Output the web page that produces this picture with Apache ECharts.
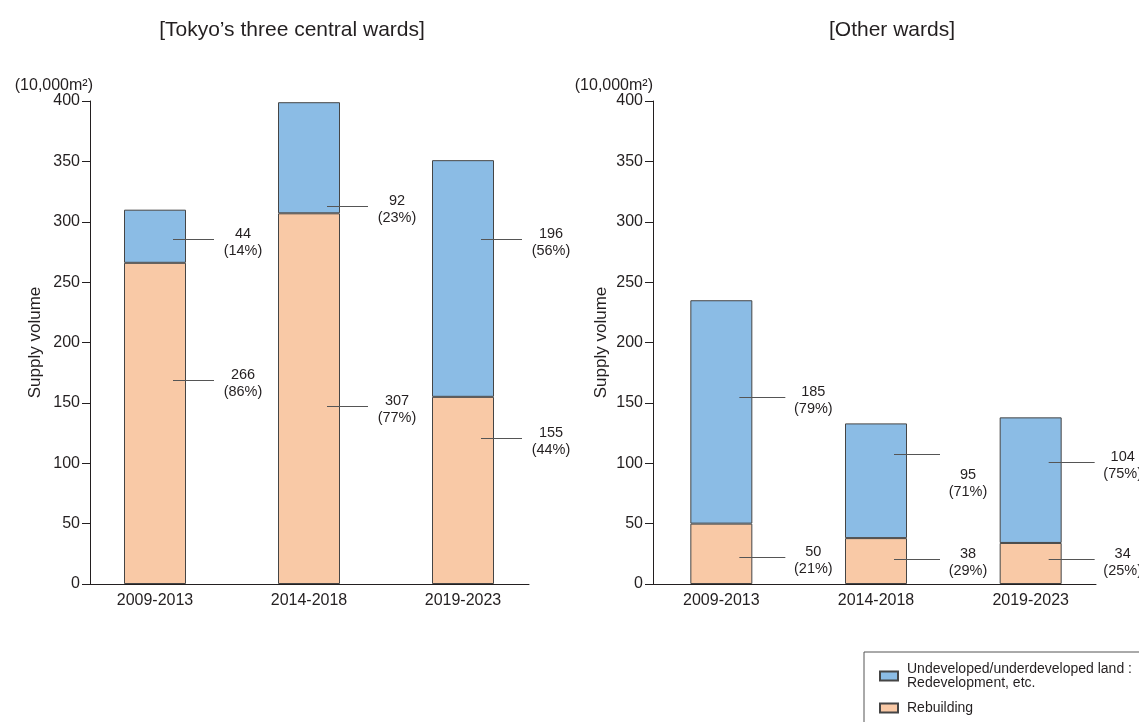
<!DOCTYPE html>
<html>
<head>
<meta charset="utf-8">
<script src="https://cdn.jsdelivr.net/npm/echarts@6/dist/echarts.min.js"></script>
<style>
  html, body { margin: 0; padding: 0; background: #ffffff; }
  #chart { width: 1139px; height: 722px; }
</style>
</head>
<body>
<div id="chart"></div>
<script>
// Supply volume of office floor space, 10,000 m²
const periods = ['2009-2013', '2014-2018', '2019-2023'];
const centralRebuilding = [266, 307, 155];
const centralRedevelopment = [44, 92, 196];
const otherRebuilding = [50, 38, 34];
const otherRedevelopment = [185, 95, 104];
const supplyTicks = { min: 0, max: 400, step: 50 };

const REDEV = 'Undeveloped/underdeveloped land :\nRedevelopment, etc.';
const REBUILD = 'Rebuilding';

// Call-out placement: height (in supply units) of each leader line,
// vertical shift of its text block, and the line / text offsets from the bar centre
const calloutLayout = {
  central: {
    rebuildAt: [169, 147, 121], redevAt: [286, 313, 286],
    rebuildShift: [3, 3, 3], redevShift: [3, 3, 3],
    lineEnd: 59, textAt: 88
  },
  other: {
    rebuildAt: [22, 21, 21], redevAt: [155, 108, 101],
    rebuildShift: [3, 3, 3], redevShift: [3, 29, 3],
    lineEnd: 64, textAt: 92
  }
};

const FONT = '"Liberation Sans", Arial, Helvetica, sans-serif';
const INK = '#231f20';
const EDGE = '#454545';
const BLUE = '#8bbce5';
const PEACH = '#f9c9a6';

function share(part, total) {
  return Math.round(part / total * 100);
}

function callouts(reb, red, lay) {
  const items = [];
  periods.forEach(function (p, i) {
    const total = reb[i] + red[i];
    items.push([i, lay.redevAt[i], red[i], share(red[i], total), lay.redevShift[i]]);
    items.push([i, lay.rebuildAt[i], reb[i], share(reb[i], total), lay.rebuildShift[i]]);
  });
  return items;
}

function calloutRenderer(lay) {
  return function (params, api) {
    const pt = api.coord([api.value(0), api.value(1)]);
    const x = pt[0];
    const y = Math.round(pt[1]) + 0.5;
    return {
      type: 'group',
      children: [
        {
          type: 'line',
          shape: { x1: x + 18, y1: y, x2: x + lay.lineEnd, y2: y },
          style: { stroke: '#555555', lineWidth: 1 }
        },
        {
          type: 'text',
          x: x + lay.textAt,
          y: y + api.value(4),
          style: {
            text: api.value(2) + '\n(' + api.value(3) + '%)',
            textAlign: 'center',
            textVerticalAlign: 'middle',
            fontSize: 14.5,
            lineHeight: 17,
            fontFamily: FONT,
            fill: INK
          }
        }
      ]
    };
  };
}

function frameX(gridIndex) {
  return {
    gridIndex: gridIndex, type: 'value', min: 0, max: 1,
    axisLine: { show: true, lineStyle: { color: INK, width: 1 } },
    axisTick: { show: false }, axisLabel: { show: false }, splitLine: { show: false }
  };
}

function barX(gridIndex) {
  return {
    gridIndex: gridIndex, type: 'category', data: periods,
    axisLine: { show: false }, axisTick: { show: false }, splitLine: { show: false },
    axisLabel: { fontSize: 16, color: INK, margin: 9, fontFamily: FONT }
  };
}

function frameY(gridIndex, pad) {
  return {
    gridIndex: gridIndex, type: 'value',
    min: supplyTicks.min, max: supplyTicks.max, interval: supplyTicks.step,
    name: '(10,000m²)', nameLocation: 'end', nameGap: 12,
    nameTextStyle: {
      align: 'right', verticalAlign: 'middle', lineHeight: 16,
      fontSize: 16, color: INK, fontFamily: FONT, padding: [0, pad, 0, 0]
    },
    axisLine: { show: true, lineStyle: { color: INK, width: 1 } },
    axisTick: { show: true, length: 8, lineStyle: { color: INK, width: 1 } },
    axisLabel: { fontSize: 16, color: INK, margin: 10, fontFamily: FONT },
    splitLine: { show: false }
  };
}

function barY(gridIndex, gap) {
  return {
    gridIndex: gridIndex, type: 'value', min: supplyTicks.min, max: supplyTicks.max,
    name: 'Supply volume', nameLocation: 'middle', nameGap: gap, nameRotate: 90,
    nameTextStyle: { fontSize: 17, color: INK, fontFamily: FONT },
    axisLine: { show: false }, axisTick: { show: false },
    axisLabel: { show: false }, splitLine: { show: false }
  };
}

function barSeries(name, data, color, axis, stack) {
  return {
    type: 'bar', name: name, data: data, stack: stack,
    xAxisIndex: axis, yAxisIndex: axis, barWidth: 62,
    itemStyle: { color: color, borderColor: EDGE, borderWidth: 1 },
    emphasis: { disabled: true }
  };
}

const chart = echarts.init(document.getElementById('chart'), null, { renderer: 'canvas' });

chart.setOption({
  animation: false,
  backgroundColor: '#ffffff',
  textStyle: { fontFamily: FONT },
  title: [
    {
      text: '[Tokyo’s three central wards]', left: 287, top: 15, textAlign: 'center',
      textStyle: { fontSize: 21, fontWeight: 'normal', color: INK, fontFamily: FONT }
    },
    {
      text: '[Other wards]', left: 887, top: 15, textAlign: 'center',
      textStyle: { fontSize: 21, fontWeight: 'normal', color: INK, fontFamily: FONT }
    }
  ],
  legend: {
    orient: 'vertical', left: 864, top: 652, height: 140,
    itemWidth: 18, itemHeight: 9, itemGap: 11,
    padding: [10, 30, 20, 15],
    borderColor: '#555555', borderWidth: 1,
    icon: 'rect', selectedMode: false,
    data: [REDEV, REBUILD],
    textStyle: { fontSize: 14, lineHeight: 14, color: INK, fontFamily: FONT, padding: [0, 0, 0, 4] }
  },
  grid: [
    { left: 90, top: 101, width: 439, height: 483 },
    { left: 78, top: 101, width: 462, height: 483 },
    { left: 653, top: 101, width: 443, height: 483 },
    { left: 644, top: 101, width: 464, height: 483 }
  ],
  xAxis: [frameX(0), barX(1), frameX(2), barX(3)],
  yAxis: [frameY(0, -3), barY(1, 34), frameY(2, 0), barY(3, 34)],
  series: [
    barSeries(REBUILD, centralRebuilding, PEACH, 1, 'central'),
    barSeries(REDEV, centralRedevelopment, BLUE, 1, 'central'),
    barSeries(REBUILD, otherRebuilding, PEACH, 3, 'other'),
    barSeries(REDEV, otherRedevelopment, BLUE, 3, 'other'),
    {
      type: 'custom', xAxisIndex: 1, yAxisIndex: 1, silent: true, clip: false, z: 5,
      data: callouts(centralRebuilding, centralRedevelopment, calloutLayout.central),
      renderItem: calloutRenderer(calloutLayout.central)
    },
    {
      type: 'custom', xAxisIndex: 3, yAxisIndex: 3, silent: true, clip: false, z: 5,
      data: callouts(otherRebuilding, otherRedevelopment, calloutLayout.other),
      renderItem: calloutRenderer(calloutLayout.other)
    }
  ]
});
</script>
</body>
</html>
